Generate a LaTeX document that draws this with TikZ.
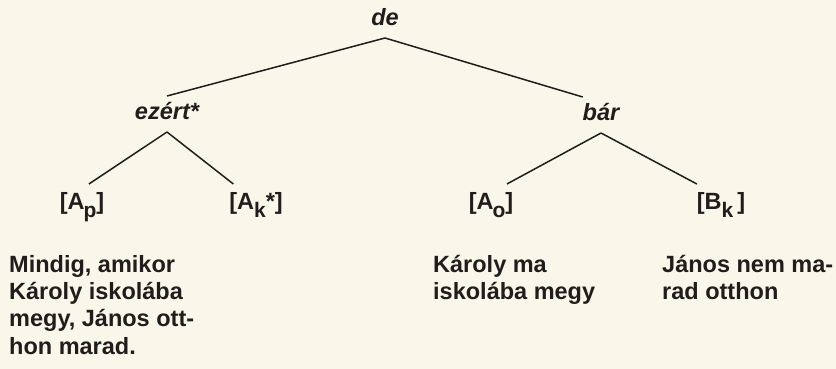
\documentclass[tikz,border=0pt]{standalone}
\usepackage{fontspec}
\setmainfont{Liberation Sans}
\usetikzlibrary{positioning}
\definecolor{paper}{RGB}{249,246,234}
\definecolor{ink}{RGB}{32,30,28}
\newcommand{\lowsub}[1]{\raisebox{-8pt}{\fontsize{21}{21}\selectfont #1}}
\newcommand{\firstline}{\rule{0pt}{24pt}}

\begin{document}
\begin{tikzpicture}[x=1pt,y=-1pt,
        word/.style={inner sep=0pt,outer xsep=0pt,outer ysep=7pt,anchor=base,
          text height=17pt,text depth=5pt,text=ink,
          font=\fontsize{23.5}{28.5}\selectfont\bfseries\itshape},
        slot/.style={inner sep=0pt,outer xsep=0pt,outer ysep=8pt,anchor=base,
          text height=17pt,text depth=5pt,text=ink,
          font=\fontsize{23.5}{28.5}\selectfont\bfseries},
        gloss/.style={inner sep=0pt,anchor=north west,align=left,text=ink,
          font=\fontsize{23.5}{27.3}\selectfont\bfseries},
        branch/.style={draw=ink,line width=1.5pt}]
      \fill[paper] (0,0) rectangle (836,369);
      \node[word] (de) at (385,26) {de};
      \node[word] (ezert) at (167,120) {ezért*};
      \node[word] (bar) at (601,121) {bár};
      \node[slot] (Ap) at (82,209) {[A\kern-1pt\lowsub{p}]};
      \node[slot] (Ak) at (256,209) {[A\lowsub{k}*]};
      \node[slot] (Ao) at (491,209) {[A\kern-1pt\lowsub{o}]};
      \node[slot] (Bk) at (721,209) {[B\lowsub{k}\,]};
      \node[gloss] (gAp) at (9,248) {\firstline Mindig, amikor\\Károly iskolába\\megy, János ott-\\hon marad.};
      \node[gloss] (gAo) at (433,248) {\firstline Károly ma\\iskolába megy};
      \node[gloss] (gBk) at (662,248) {\firstline János nem ma-\\rad otthon};
      \draw[branch] (de.south) -- (ezert.north);
      \draw[branch] (de.south) -- (bar.north west);
      \draw[branch] (ezert.south) -- (Ap.70);
      \draw[branch] (ezert.south) -- (Ak.140);
      \draw[branch] (bar.south) -- (Ao.50);
      \draw[branch] (bar.south) -- (Bk.north west);
    \end{tikzpicture}
\end{document}
